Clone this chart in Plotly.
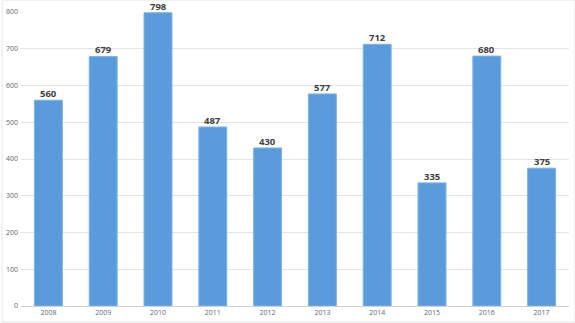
import plotly.graph_objects as go

years = ["2008", "2009", "2010", "2011", "2012", "2013", "2014", "2015", "2016", "2017"]
values = [560, 679, 798, 487, 430, 577, 712, 335, 680, 375]
y_ticks = [0, 100, 200, 300, 400, 500, 600, 700, 800]

fig = go.Figure(go.Bar(
    x=years, y=values,
    marker=dict(color="#5a9bdc", line=dict(color="#7db3e6", width=1)),
))

# on a category axis, annotation x is given as the category index
annotations = [
    dict(x=i, y=v, text=str(v), showarrow=False, yanchor="bottom", yshift=-2,
         font=dict(family="Open Sans, Arial", size=9.5, color="#404040", weight="bold"))
    for i, v in enumerate(values)
]

fig.update_layout(
    width=575, height=323,
    margin=dict(l=19, r=6, t=12, b=16),
    paper_bgcolor="white", plot_bgcolor="white",
    bargap=0.49,
    showlegend=False,
    annotations=annotations,
    xaxis=dict(type="category", range=[-0.5, len(years) - 0.5], showgrid=False,
               tickfont=dict(family="Open Sans, Arial", size=7, color="#666666"),
               showline=True, linecolor="#d0d0d0", linewidth=1, ticks=""),
    yaxis=dict(range=[0, 800], tickvals=y_ticks, showgrid=True, gridcolor="#e3e3e3", gridwidth=1,
               zeroline=False, tickfont=dict(family="Open Sans, Arial", size=7, color="#666666"),
               ticks="", ticklabelstandoff=2),
    shapes=[dict(type="rect", xref="paper", yref="paper",
                 x0=-19/550, x1=1+6/550, y0=-16/295, y1=1+12/295,
                 line=dict(color="#e6e6e6", width=1), layer="below")],
)

fig.write_html("out.html")
